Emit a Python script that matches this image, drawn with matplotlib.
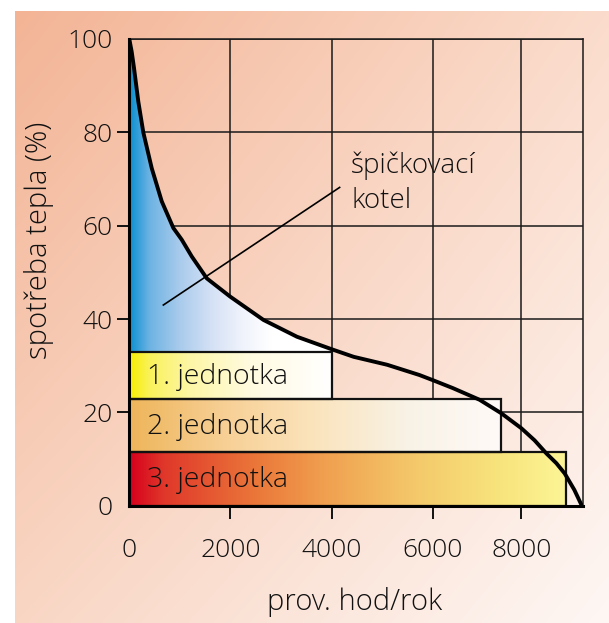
import numpy as np
import matplotlib
matplotlib.use("Agg")
import matplotlib.pyplot as plt
from matplotlib.colors import LinearSegmentedColormap
from matplotlib.patches import Polygon

plt.rcParams['font.family'] = ['Open Sans', 'DejaVu Sans']
FW = 'light'

# ---- data ----
curve_x = [0, 47, 93, 178, 277, 444, 642, 871, 1037, 1235, 1533, 1994, 2653, 3315,
           4008, 4436, 5097, 5736, 6000, 6452, 7056, 7548, 8000, 8300, 8566, 8792,
           8980, 9197, 9367]
curve_y = [100, 97.3, 93.8, 86.6, 80.0, 72.3, 65.2, 59.5, 57.0, 53.4, 48.7, 44.8, 39.8, 36.2,
           33.5, 31.9, 30.2, 28.0, 26.9, 25.2, 22.7, 19.8, 16.6, 14.0, 11.2, 9.1,
           6.9, 3.4, 0]
unit_labels = ["1. jednotka", "2. jednotka", "3. jednotka"]
unit_bottom = [22.9, 11.45, 0.0]
unit_top = [33.0, 22.9, 11.45]
unit_end = [4000, 7550, 9000]
x_ticks = [0, 2000, 4000, 6000, 8000]
y_ticks = [0, 20, 40, 60, 80, 100]
peak_label = ["špičkovací", "kotel"]

W, H = 609, 623
fig = plt.figure(figsize=(W / 100, H / 100), dpi=100)

# background gradient panel
bg = fig.add_axes([15 / W, 0, 1 - 15 / W, 1 - 11 / H], zorder=-10)
tl = np.array([243, 180, 149]) / 255
tr = np.array([251, 220, 204]) / 255
bl = np.array([249, 214, 196]) / 255
br = np.array([254, 247, 244]) / 255
u = np.linspace(0, 1, 200)[None, :, None]
v = np.linspace(0, 1, 200)[:, None, None]
img = (1 - v) * ((1 - u) * tl + u * tr) + v * ((1 - u) * bl + u * br)
bg.imshow(img, aspect='auto', extent=(0, 1, 0, 1))
bg.set_axis_off()

ax = fig.add_axes([129.3 / W, (H - 505.7) / H, (583.3 - 129.3) / W, (505.7 - 39) / H])
ax.patch.set_alpha(0)

k = 0.875
def fwd(x):
    x = np.asarray(x, dtype=float)
    return np.where(x <= 6000, x, 6000 + (x - 6000) * k)
def inv(y):
    y = np.asarray(y, dtype=float)
    return np.where(y <= 6000, y, 6000 + (y - 6000) / k)
ax.set_xscale('function', functions=(fwd, inv))
ax.set_xlim(0, 9400)
ax.set_ylim(0, 100)

def grad_fill(verts, x0, x1, y0, y1, stops, z):
    cmap = LinearSegmentedColormap.from_list('g', stops)
    to_ax = ax.transData + ax.transAxes.inverted()
    p0 = to_ax.transform((x0, y0))
    p1 = to_ax.transform((x1, y1))
    im = ax.imshow(np.linspace(0, 1, 512)[None, :], cmap=cmap, aspect='auto',
                   extent=(p0[0], p1[0], p0[1], p1[1]), transform=ax.transAxes,
                   zorder=z, interpolation='bilinear')
    patch = Polygon(verts, closed=True, transform=ax.transData,
                    facecolor='none', edgecolor='none')
    ax.add_patch(patch)
    im.set_clip_path(patch)

# peak boiler area (above unit 1, under curve)
n_peak = curve_x.index(4008) + 1
verts = [(0, unit_top[0])] + list(zip(curve_x[:n_peak], curve_y[:n_peak])) + [(4008, unit_top[0])]
grad_fill(verts, 0, 4008, unit_top[0], 100,
          [(0, '#0a8fd0'), (0.1, '#6db3e3'), (0.25, '#a9cbec'), (0.4, '#d3e0f5'),
           (0.55, '#eef2fb'), (0.7, '#ffffff'), (1, '#ffffff')], 2)

bar_stops = [
    [(0, '#f6ee00'), (0.1, '#faf25a'), (0.3, '#fdf6a6'), (0.6, '#fffbe0'), (1, '#ffffff')],
    [(0, '#eeb55a'), (0.25, '#f7cf94'), (0.5, '#fbe4bd'), (0.75, '#f8f2e6'), (1, '#fffaf7')],
    [(0, '#d6001d'), (0.08, '#e0382a'), (0.3, '#eb7a3a'), (0.45, '#f0a050'),
     (0.65, '#f4c86a'), (0.85, '#f8e47c'), (1, '#fcf596')],
]
for i in range(3):
    b, t, e = unit_bottom[i], unit_top[i], unit_end[i]
    grad_fill([(0, b), (e, b), (e, t), (0, t)], 0, e, b, t, bar_stops[i], 3)
ax.barh([(b + t) / 2 for b, t in zip(unit_bottom, unit_top)],
        unit_end, height=[t - b for b, t in zip(unit_bottom, unit_top)],
        left=0, facecolor='none', edgecolor='#111111', linewidth=1.6, zorder=4)
for i in range(3):
    ax.text(350, (unit_bottom[i] + unit_top[i]) / 2 - 0.3, unit_labels[i],
            fontsize=20.5, fontweight=FW, va='center', ha='left', color='#111111', zorder=6)

# load duration curve
ax.plot(curve_x, curve_y, color='black', linewidth=2.8, zorder=5,
        solid_joinstyle='round', solid_capstyle='butt')

# annotation
ax.plot([673, 4158], [43.0, 68.2], color='black', linewidth=1.2, zorder=5)
ax.text(4390, 71.3, peak_label[0], fontsize=20, fontweight=FW, va='baseline', ha='left', color='#111111')
ax.text(4390, 63.8, peak_label[1], fontsize=20, fontweight=FW, va='baseline', ha='left', color='#111111')

# grid
ax.set_xticks(x_ticks)
ax.set_yticks(y_ticks)
ax.set_xticklabels([str(t) for t in x_ticks], fontweight=FW)
ax.set_yticklabels([str(t) for t in y_ticks], fontweight=FW)
ax.grid(True, color='#1a1a1a', linewidth=1.1, zorder=1)
ax.set_axisbelow(True)
for s in ['top', 'right']:
    ax.spines[s].set_linewidth(1.1)
    ax.spines[s].set_color('#1a1a1a')
for s in ['left', 'bottom']:
    ax.spines[s].set_linewidth(2.2)
    ax.spines[s].set_color('black')
    ax.spines[s].set_zorder(7)
ax.tick_params(axis='both', direction='out', length=9, width=1.4, labelsize=19,
               colors='#111111')
ax.tick_params(axis='x', pad=14)
ax.tick_params(axis='y', pad=3)
for tk in [ax.xaxis.get_major_ticks()[0], ax.yaxis.get_major_ticks()[0],
           ax.yaxis.get_major_ticks()[-1]]:
    tk.tick1line.set_visible(False)

ax.set_xlabel("prov. hod/rok", fontsize=21, fontweight=FW, color='#111111')
ax.xaxis.set_label_coords(0.496, -0.175)
ax.set_ylabel("spotřeba tepla (%)", fontsize=21, fontweight=FW, color='#111111')
ax.yaxis.set_label_coords(-0.165, 0.569)

fig.savefig("out.png", dpi=100)
